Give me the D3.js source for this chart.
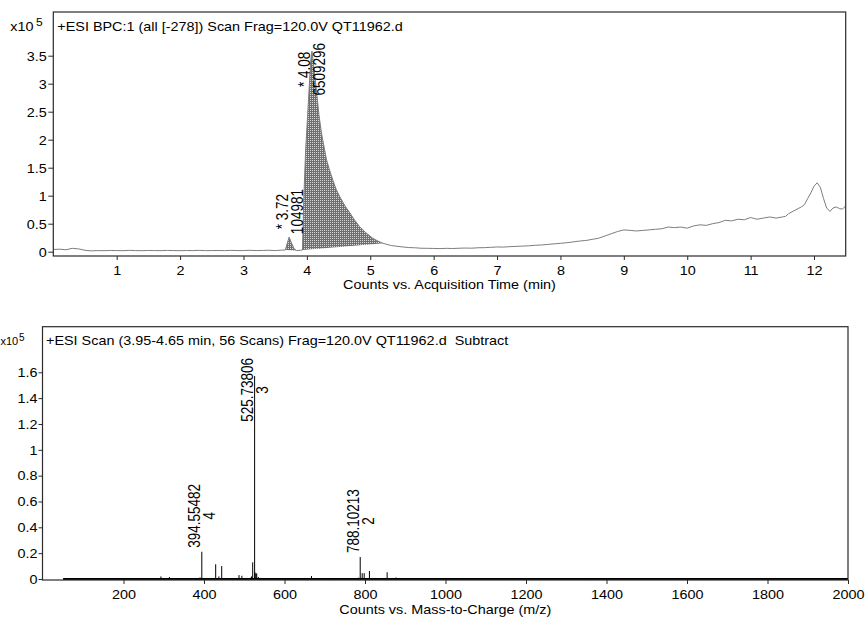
<!DOCTYPE html>
<html><head><meta charset="utf-8">
<script src="https://cdn.jsdelivr.net/npm/d3@7"></script>
<style>
body{margin:0;background:#fff;}
svg{display:block;font-family:"Liberation Sans",Arial,sans-serif;}
text{white-space:pre;}
</style></head><body>
<svg id="c" width="865" height="617"></svg>
<script>
// ---------- DATA (intensities in units of 10^5 counts) ----------
const chromTitle = "+ESI BPC:1 (all [-278]) Scan Frag=120.0V QT11962.d";
const chromTimes = [0.0,0.1,0.2,0.3,0.4,0.5,0.6,0.7,0.8,0.9,1.0,1.1,1.2,1.3,1.4,1.5,1.6,1.7,1.8,1.9,2.0,2.1,2.2,2.3,2.4,2.5,2.6,2.7,2.8,2.9,3.0,3.1,3.2,3.3,3.4,3.5,3.6,3.66,3.69,3.72,3.76,3.8,3.84,3.9,3.93,3.95,3.98,4.02,4.06,4.08,4.11,4.15,4.19,4.23,4.27,4.31,4.36,4.41,4.46,4.52,4.6,4.68,4.75,4.83,4.93,5.04,5.12,5.2,5.33,5.47,5.6,5.7,5.8,5.9,6.0,6.1,6.2,6.3,6.4,6.5,6.6,6.7,6.8,6.9,7.0,7.1,7.2,7.3,7.4,7.5,7.6,7.7,7.8,7.9,8.0,8.1,8.2,8.3,8.4,8.5,8.6,8.7,8.8,8.9,9.0,9.1,9.2,9.3,9.4,9.5,9.6,9.7,9.8,9.9,10.0,10.1,10.2,10.3,10.4,10.5,10.6,10.7,10.8,10.9,11.0,11.1,11.2,11.3,11.4,11.5,11.55,11.6,11.7,11.8,11.85,11.9,11.95,12.0,12.05,12.1,12.15,12.2,12.25,12.3,12.35,12.4,12.45,12.5];
const chromValues = [0.04,0.045,0.035,0.06,0.05,0.025,0.015,0.02,0.018,0.022,0.02,0.018,0.024,0.02,0.018,0.022,0.02,0.019,0.023,0.02,0.018,0.021,0.02,0.024,0.019,0.02,0.022,0.019,0.024,0.02,0.021,0.025,0.02,0.022,0.026,0.02,0.028,0.03,0.15,0.26,0.15,0.05,0.02,0.025,0.03,0.9,1.8,2.6,3.4,3.58,3.3,2.89,2.45,2.12,1.88,1.64,1.45,1.28,1.12,0.98,0.82,0.69,0.57,0.45,0.34,0.24,0.19,0.15,0.11,0.09,0.075,0.07,0.062,0.06,0.058,0.055,0.06,0.057,0.062,0.065,0.063,0.07,0.072,0.078,0.085,0.082,0.09,0.095,0.1,0.105,0.115,0.12,0.13,0.14,0.15,0.16,0.175,0.19,0.2,0.22,0.24,0.28,0.32,0.36,0.39,0.38,0.37,0.38,0.39,0.4,0.41,0.44,0.43,0.44,0.42,0.46,0.48,0.47,0.5,0.52,0.56,0.55,0.58,0.57,0.61,0.58,0.6,0.62,0.6,0.62,0.63,0.68,0.74,0.8,0.84,0.95,1.05,1.17,1.23,1.15,0.95,0.78,0.72,0.78,0.8,0.77,0.76,0.82];
const integStart = [3.66, 3.93];
const integEnd   = [3.84, 5.2];
const peakRT     = [3.72, 4.08];
const peakHeight = [0.26, 3.58];
const peakArea   = ["104981", "6509296"];
const timeTicks  = [1,2,3,4,5,6,7,8,9,10,11,12];
const chromYTicks = [0,0.5,1,1.5,2,2.5,3,3.5];

const specTitle = "+ESI Scan (3.95-4.65 min, 56 Scans) Frag=120.0V QT11962.d  Subtract";
const specMz = [144,161,293,314,335,365,390,394.55482,429,437,444,470,487,494,515,518,521,525.73806,527,529,531,535,540,618,667,725,784,788.10213,793,798,811,855,877,1351];
const specInt = [0.006,0.006,0.02,0.015,0.008,0.008,0.012,0.211,0.114,0.02,0.10,0.006,0.03,0.025,0.01,0.02,0.129,1.571,0.05,0.04,0.044,0.015,0.008,0.008,0.023,0.008,0.01,0.17,0.045,0.045,0.062,0.052,0.012,0.008];
const labelMz = [394.55482, 525.73806, 788.10213];
const labelCharge = ["4", "3", "2"];
const mzRange = [50, 2000];
const mzTicks = [200,400,600,800,1000,1200,1400,1600,1800,2000];
const specYTicks = [0,0.2,0.4,0.6,0.8,1,1.2,1.4,1.6];

// ---------- DRAWING ----------
const SX = 1.2; // horizontal stretch of the original rendering
const svg = d3.select("#c");
const fmt = d => String(+d.toFixed(1));
const defs = svg.append("defs");
const pat = defs.append("pattern").attr("id","hatch").attr("width",2).attr("height",2).attr("patternUnits","userSpaceOnUse");
pat.append("rect").attr("width",2).attr("height",2).attr("fill","#6e6e6e");
pat.append("rect").attr("width",1).attr("height",1).attr("fill","#d8d8d8");

function frame(g, l, t, r, b) {
  g.append("rect").attr("x",l).attr("y",t).attr("width",r-l).attr("height",b-t)
   .attr("fill","none").attr("stroke","#2a2a2a").attr("stroke-width",1.2);
}
function stretchText(g, x, y, str, size, anchor, sx) {
  g.append("text").attr("transform",`translate(${x},${y}) scale(${sx||SX},1)`)
   .attr("font-size",size).attr("text-anchor",anchor||"start").attr("fill","#000").text(str);
}
function styleAxis(ax, isY, gap) {
  ax.select(".domain").remove();
  ax.selectAll(".tick line").attr("stroke","#2a2a2a");
  const t = ax.selectAll(".tick text").attr("fill","#000").attr("font-size",12)
     .attr("font-family","'Liberation Sans',Arial,sans-serif");
  if (isY) t.attr("x", -gap/SX).attr("dy","0.36em").attr("transform",`scale(${SX},1)`);
  else t.attr("y", gap).attr("dy", 0).attr("transform",`scale(${SX},1)`);
}
function rotLabel(g, px, bottomY, minTop, lines, size) {
  const grp = g.append("g");
  const texts = lines.map((s,i) => grp.append("text").attr("font-size",size)
     .attr("text-anchor","middle").attr("dominant-baseline","central").attr("fill","#000")
     .attr("y", (i===0 ? -7 : 8)/SX).text(s));
  const len = d3.max(texts, t => t.node().getComputedTextLength());
  let top = bottomY - len;
  if (top < minTop) top = minTop;
  const cy = top + len/2;
  grp.attr("transform", `translate(${px},${cy}) scale(${SX},1) rotate(-90)`);
}

// ----- Chromatogram -----
{
  const L = 53.3, R = 845.7, T = 12, B = 256;
  const x = d3.scaleLinear().domain([0, 12.5]).range([L, R]);
  const y = d3.scaleLinear().domain([0, 3.5]).range([251.7, 55.7]);
  const g = svg.append("g");
  defs.append("clipPath").attr("id","clipA").append("rect").attr("x",L).attr("y",T).attr("width",R-L).attr("height",B-T);
  const pts = chromTimes.map((t,i)=>[t, chromValues[i]]);
  const interp = t => {
    const i = d3.bisector(d=>d[0]).left(pts, t);
    if (i<=0) return pts[0][1];
    if (i>=pts.length) return pts[pts.length-1][1];
    const a = pts[i-1], b = pts[i];
    return a[1] + (b[1]-a[1])*(t-a[0])/(b[0]-a[0]);
  };
  integStart.forEach((s,k) => {
    const e = integEnd[k];
    const v0 = interp(s), v1 = interp(e);
    const seg = [[s, v0]].concat(pts.filter(p=>p[0]>s && p[0]<e)).concat([[e, v1]]);
    const area = d3.area().x(d=>x(d[0])).y1(d=>y(d[1]))
       .y0(d=>y(v0 + (v1-v0)*(d[0]-s)/(e-s)));
    g.append("path").attr("d", area(seg)).attr("fill","url(#hatch)").attr("clip-path","url(#clipA)");
  });
  g.append("path").attr("d", d3.line().x(d=>x(d[0])).y(d=>y(d[1]))(pts))
   .attr("fill","none").attr("stroke","#7d7d7d").attr("stroke-width",1).attr("clip-path","url(#clipA)");
  const xa = g.append("g").attr("transform",`translate(0,${B})`)
    .call(d3.axisBottom(x).tickValues(timeTicks).tickSize(4).tickFormat(d3.format("d")));
  styleAxis(xa, false, 19);
  const ya = g.append("g").attr("transform",`translate(${L},0)`)
    .call(d3.axisLeft(y).tickValues(chromYTicks).tickSize(5).tickFormat(fmt));
  styleAxis(ya, true, 6.5);
  frame(g, L, T, R, B);
  stretchText(g, L+4, 30.5, chromTitle, 12);
  stretchText(g, 33.5, 30.5, "x10", 12, "end");
  stretchText(g, 36, 26, "5", 10);
  stretchText(g, (L+R)/2, 289, "Counts vs. Acquisition Time (min)", 12, "middle");
  peakRT.forEach((rt,i) => {
    rotLabel(g, x(rt), y(peakHeight[i]) - 3, 43, ["* " + rt.toFixed(2), peakArea[i]], 13.5);
  });
}

// ----- Mass spectrum -----
{
  const L = 42.5, R = 848, T = 326.7, B = 580;
  const x = d3.scaleLinear().domain([0, 2000]).range([43, 848]);
  const y = d3.scaleLinear().domain([0, 1.6]).range([579, 372.3]);
  const g = svg.append("g");
  g.append("line").attr("x1", x(mzRange[0])).attr("x2", x(mzRange[1]))
   .attr("y1", y(0)).attr("y2", y(0)).attr("stroke","#000").attr("stroke-width",2);
  g.selectAll(".stick").data(specMz.map((m,i)=>[m, specInt[i]])).join("line")
   .attr("x1", d=>x(d[0])).attr("x2", d=>x(d[0]))
   .attr("y1", y(0)).attr("y2", d=>y(d[1])).attr("stroke","#000").attr("stroke-width",1);
  const xa = g.append("g").attr("transform",`translate(0,${B})`)
    .call(d3.axisBottom(x).tickValues(mzTicks).tickSize(4).tickFormat(d3.format("d")));
  styleAxis(xa, false, 19);
  const ya = g.append("g").attr("transform",`translate(${L},0)`)
    .call(d3.axisLeft(y).tickValues(specYTicks).tickSize(4).tickFormat(fmt));
  styleAxis(ya, true, 5);
  frame(g, L, T, R, B);
  stretchText(g, L+3.5, 345, specTitle, 12);
  stretchText(g, 0.5, 345, "x10", 11, "start", 1.0);
  stretchText(g, 19, 341, "5", 10, "start", 1.0);
  stretchText(g, (L+R)/2, 614, "Counts vs. Mass-to-Charge (m/z)", 12, "middle");
  labelMz.forEach((m,i) => {
    const v = specInt[specMz.indexOf(m)];
    rotLabel(g, x(m), y(v) - 4, 358, [m.toFixed(5), labelCharge[i]], 13.5);
  });
}
</script>
</body></html>
